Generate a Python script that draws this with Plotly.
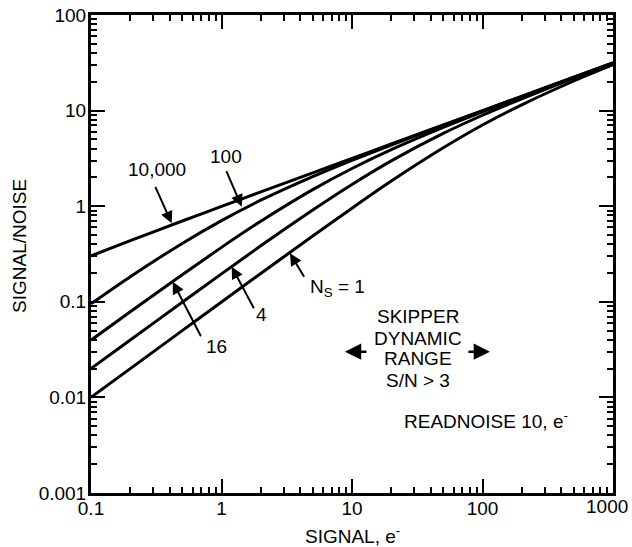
import plotly.graph_objects as go

# Signal (electrons)
signal = [0.1, 0.2, 0.5, 1, 2, 5, 10, 20, 50, 100, 200, 500, 1000]

# Signal/noise, one series per number of skipper samples N_S
sn_ns1 = [0.0100, 0.0200, 0.0499, 0.0995, 0.198, 0.488, 0.953, 1.83, 4.08, 7.07, 11.5, 20.4, 30.2]
sn_ns4 = [0.0200, 0.0398, 0.0990, 0.196, 0.385, 0.913, 1.69, 2.98, 5.77, 8.94, 13.3, 21.8, 31.2]
sn_ns16 = [0.0397, 0.0787, 0.192, 0.371, 0.696, 1.49, 2.48, 3.90, 6.67, 9.70, 13.9, 22.2, 31.5]
sn_ns100 = [0.0953, 0.183, 0.408, 0.707, 1.155, 2.04, 3.02, 4.36, 7.00, 9.95, 14.1, 22.3, 31.6]
sn_ns10000 = [0.302, 0.436, 0.700, 0.995, 1.41, 2.23, 3.16, 4.47, 7.07, 10.0, 14.1, 22.4, 31.6]

series = [sn_ns1, sn_ns4, sn_ns16, sn_ns100, sn_ns10000]

x_ticks = [0.1, 1, 10, 100, 1000]
x_ticktext = ["0.1", "1", "10", "100", ""]   # last label ("1000") drawn right-aligned below
x_last_label = "1000"
y_ticks = [0.001, 0.01, 0.1, 1, 10, 100]
y_ticktext = ["0.001", "0.01", "0.1", "1", "10", "100"]

FONT = "Liberation Sans, Arial, Helvetica, sans-serif"
FS = 19

fig = go.Figure()
for s in series:
    fig.add_trace(go.Scatter(x=signal, y=s, mode="lines",
                             line=dict(color="black", width=3, shape="spline", smoothing=0.6),
                             showlegend=False, hoverinfo="skip"))

x_minor = [m * 10 ** e for e in range(-1, 3) for m in range(2, 10)]
y_minor = [m * 10 ** e for e in range(-3, 2) for m in range(2, 10)]

axis_common = dict(
    type="log", showgrid=False, zeroline=False, showline=True, linecolor="black", linewidth=3,
    ticks="inside", ticklen=14, tickwidth=2, tickcolor="black", mirror="allticks",
    tickfont=dict(family=FONT, size=FS, color="black"), automargin=False,
)

fig.update_xaxes(**axis_common, range=[-1, 3], tickvals=x_ticks, ticktext=x_ticktext, ticklabelstandoff=-4,
                 minor=dict(tickvals=x_minor, ticks="inside", ticklen=6, tickwidth=2, tickcolor="black"))
fig.update_yaxes(**axis_common, range=[-3, 2], tickvals=y_ticks, ticktext=y_ticktext, ticklabelstandoff=-2,
                 minor=dict(tickvals=y_minor, ticks="inside", ticklen=6, tickwidth=2, tickcolor="black"))

ann = []
tf = dict(family=FONT, size=FS, color="black")

# last x tick label, kept inside the page
ann.append(dict(xref="paper", yref="paper", x=1.0326, y=-0.029, text=x_last_label, showarrow=False,
                font=tf, xanchor="right", yanchor="middle"))

# axis titles
ann.append(dict(xref="paper", yref="paper", x=-0.136, y=0.517, text="SIGNAL/NOISE", textangle=-90,
                showarrow=False, font=tf, xanchor="center", yanchor="middle"))
ann.append(dict(xref="paper", yref="paper", x=0.5, y=-0.088, text="SIGNAL, e<sup>-</sup>",
                showarrow=False, font=tf, xanchor="center", yanchor="middle"))

# curve labels (x, y in log10 data units)
labels = [
    ("10,000", -0.497, 0.379, "center"),
    ("100", 0.034, 0.520, "center"),
    ("16", -0.037, -1.470, "center"),
    ("4", 0.310, -1.138, "center"),
    ("N<sub>S</sub> = 1", 0.663, -0.856, "left"),
]
for t, lx, ly, xa in labels:
    ann.append(dict(x=lx, y=ly, text=t, showarrow=False, font=tf, xanchor=xa, yanchor="middle"))

# pointer arrows: head point (log10 data), tail offset in pixels
pointers = [
    (-0.382, -0.179, -17, -38),
    (0.155, -0.005, -16, -37),
    (-0.374, -0.790, 29, 56),
    (0.078, -0.633, 23, 43),
    (0.525, -0.493, 15, 25),
]
for hx, hy, axp, ayp in pointers:
    ann.append(dict(x=hx, y=hy, ax=axp, ay=ayp, text="", showarrow=True, arrowhead=2, arrowsize=1.2,
                    arrowwidth=2, arrowcolor="black", standoff=0))

for t, ly in [("SKIPPER", -1.156), ("DYNAMIC", -1.379), ("RANGE", -1.598), ("S/N > 3", -1.818)]:
    ann.append(dict(x=1.506, y=ly, text=t, showarrow=False, font=tf, xanchor="center", yanchor="middle"))

# dynamic range arrows
ann.append(dict(x=0.946, y=-1.522, ax=23, ay=0, text="", showarrow=True, arrowhead=2, arrowsize=1.3,
                arrowwidth=2.5, arrowcolor="black"))
ann.append(dict(x=2.057, y=-1.522, ax=-23, ay=0, text="", showarrow=True, arrowhead=2, arrowsize=1.3,
                arrowwidth=2.5, arrowcolor="black"))

ann.append(dict(x=2.670, y=-2.236, text="READNOISE 10, e<sup>-</sup>", showarrow=False, font=tf,
                xanchor="right", yanchor="middle"))

fig.update_layout(
    width=632, height=547, margin=dict(l=91, r=19, t=15, b=54),
    paper_bgcolor="white", plot_bgcolor="white",
    font=dict(family=FONT, size=FS, color="black"),
    annotations=ann,
)

fig.write_html("out.html")
